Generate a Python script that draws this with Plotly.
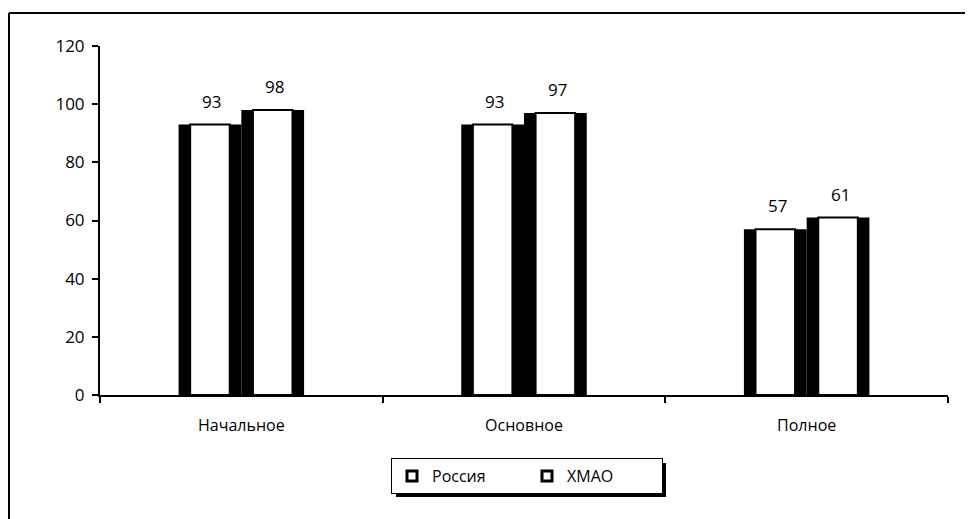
import plotly.graph_objects as go

categories = ["Начальное", "Основное", "Полное"]
russia = [93, 93, 57]
hmao = [98, 97, 61]
series_names = ["Россия", "ХМАО"]

FONT = "Open Sans"
W_OUT = 0.222
W_IN = 0.14
edge = (W_OUT - W_IN) / 2
PW, PH = 848, 349

fig = go.Figure()
annotations = []
for i, (name, vals) in enumerate(zip(series_names, [russia, hmao])):
    off = -W_OUT + i * W_OUT
    fig.add_trace(go.Bar(
        x=categories, y=vals, width=W_OUT, offset=off,
        marker=dict(color="black", line=dict(width=0)),
        showlegend=False, hoverinfo="skip"))
    fig.add_trace(go.Bar(
        x=categories, y=vals, width=W_IN, offset=off + edge, name=name,
        marker=dict(color="white", line=dict(color="black", width=2)),
        showlegend=False))
    fig.add_trace(go.Scatter(
        x=[None], y=[None], mode="markers", name=name,
        marker=dict(symbol="square", size=10, color="white",
                    line=dict(color="black", width=3))))
    for c, v in zip(categories, vals):
        annotations.append(dict(
            x=c, y=v, xref="x", yref="y", text=str(v), showarrow=False,
            xanchor="center", yanchor="bottom",
            xshift=(off + W_OUT / 2) * 282.7 + 2, yshift=10,
            font=dict(family=FONT, size=17, color="black")))

fig.update_layout(
    barmode="overlay",
    width=965, height=511,
    margin=dict(l=92, r=25, t=38, b=124, autoexpand=False),
    paper_bgcolor="white", plot_bgcolor="white",
    font=dict(family=FONT, size=17, color="black"),
    annotations=annotations,
    xaxis=dict(showline=True, linecolor="black", linewidth=2,
               ticks="outside", tickson="boundaries", ticklen=6,
               tickwidth=2, tickcolor="black", showgrid=False,
               tickfont=dict(size=16), ticklabelstandoff=15),
    yaxis=dict(range=[0, 120], dtick=20, showline=True, linecolor="black",
               linewidth=2, ticks="outside", ticklen=6, tickwidth=2,
               tickcolor="black", showgrid=False, zeroline=False,
               tickfont=dict(size=17), ticklabelstandoff=4),
    legend=dict(orientation="h", x=(527 - 100) / PW, xanchor="center",
                y=-(476 - 395) / PH, yanchor="middle", bgcolor="white",
                bordercolor="black", borderwidth=1,
                font=dict(family=FONT, size=16), entrywidth=90,
                itemwidth=30),
    shapes=[
        dict(type="line", xref="paper", yref="paper",
             x0=-91 / PW, x1=1.04, y0=(395 - 13) / PH, y1=(395 - 13) / PH,
             line=dict(color="black", width=2)),
        dict(type="line", xref="paper", yref="paper",
             x0=-91 / PW, x1=-91 / PW, y0=(395 - 13) / PH, y1=-130 / PH,
             line=dict(color="black", width=2)),
        dict(type="rect", xref="paper", yref="paper", layer="below",
             x0=(396 - 100) / PW, x1=(666 - 100) / PW,
             y0=-(497 - 395) / PH, y1=-(463 - 395) / PH,
             fillcolor="black", line=dict(width=0)),
    ],
)

fig.write_html("out.html")
